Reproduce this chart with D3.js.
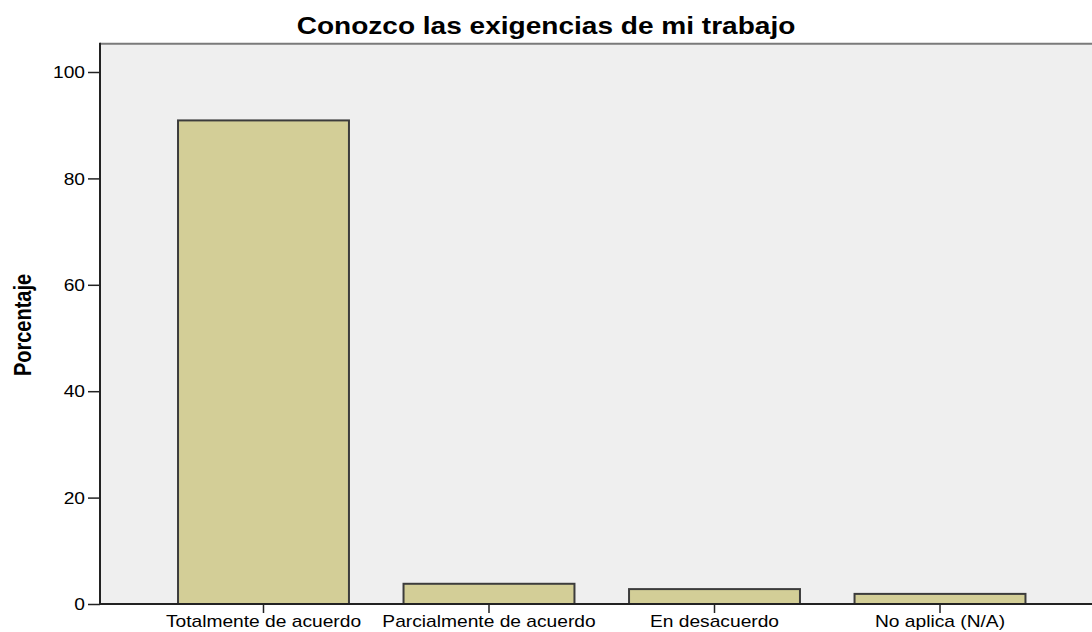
<!DOCTYPE html>
<html>
<head>
<meta charset="utf-8">
<script src="https://cdn.jsdelivr.net/npm/d3@7"></script>
<style>
  body { margin: 0; background: #fff; }
  text { font-family: Arial, "Liberation Sans", sans-serif; fill: #000; }
</style>
</head>
<body>
<svg id="chart" width="1092" height="632"></svg>
<script>
// data
var categories = ["Totalmente de acuerdo", "Parcialmente de acuerdo", "En desacuerdo", "No aplica (N/A)"];
var percentages = [90.9, 3.8, 2.8, 1.9];
var yTicks = [0, 20, 40, 60, 80, 100];
var title = "Conozco las exigencias de mi trabajo";
var yTitle = "Porcentaje";

var svg = d3.select("#chart"),
    stretch = 1.2,           // the original is widened horizontally
    left = 100,
    right = 1103.5,
    bottom = 604,
    yMax = 105.3;

var x = d3.scaleBand()
    .domain(categories)
    .range([left, right])
    .paddingInner(0.242)
    .paddingOuter(0.346);

var y = d3.scaleLinear()
    .domain([0, 100])
    .range([bottom, 72]);

// plot background
svg.append("rect")
    .attr("x", left)
    .attr("y", y(yMax))
    .attr("width", right - left)
    .attr("height", bottom - y(yMax))
    .attr("fill", "#efefef");

svg.append("line")
    .attr("x1", left).attr("x2", right)
    .attr("y1", y(yMax)).attr("y2", y(yMax))
    .attr("stroke", "#7a7a7a")
    .attr("stroke-width", 2);

// bars
svg.selectAll("rect.bar")
    .data(categories)
    .enter().append("rect")
    .attr("class", "bar")
    .attr("x", function(d) { return x(d); })
    .attr("y", function(d, i) { return y(percentages[i]); })
    .attr("width", x.bandwidth())
    .attr("height", function(d, i) { return bottom - y(percentages[i]); })
    .attr("fill", "#d3ce97")
    .attr("stroke", "#3c3c3c")
    .attr("stroke-width", 2);

// y axis
var gy = svg.append("g")
    .attr("transform", "translate(" + left + ",0)")
    .call(d3.axisLeft(y).tickValues(yTicks).tickSize(12).tickPadding(3).tickSizeOuter(0));
gy.select(".domain").remove();
gy.selectAll(".tick line").attr("stroke", "#222").attr("stroke-width", 1.5);
gy.selectAll(".tick text")
    .attr("font-size", 16)
    .attr("dy", "0.36em")
    .attr("transform", "scale(" + stretch + ",1)")
    .attr("x", -15 / stretch);

svg.append("line")
    .attr("x1", left).attr("x2", left)
    .attr("y1", y(yMax) - 1).attr("y2", bottom)
    .attr("stroke", "#222")
    .attr("stroke-width", 2);

// x axis
var gx = svg.append("g")
    .attr("transform", "translate(0," + bottom + ")")
    .call(d3.axisBottom(x).tickSize(9).tickPadding(8).tickSizeOuter(0));
gx.select(".domain").remove();
gx.selectAll(".tick line").attr("stroke", "#222").attr("stroke-width", 1.5);
gx.selectAll(".tick text")
    .attr("font-size", 16)
    .attr("dy", "0.71em")
    .attr("y", 12)
    .attr("transform", "scale(" + stretch + ",1)");

svg.append("line")
    .attr("x1", left - 1).attr("x2", right)
    .attr("y1", bottom).attr("y2", bottom)
    .attr("stroke", "#222")
    .attr("stroke-width", 2);

// titles
svg.append("text")
    .attr("transform", "translate(546,34) scale(1.22,1)")
    .attr("text-anchor", "middle")
    .attr("font-size", 23)
    .attr("font-weight", "bold")
    .text(title);

svg.append("text")
    .attr("transform", "translate(31,325) scale(" + stretch + ",1) rotate(-90)")
    .attr("text-anchor", "middle")
    .attr("font-size", 20)
    .attr("font-weight", "bold")
    .text(yTitle);
</script>
</body>
</html>
